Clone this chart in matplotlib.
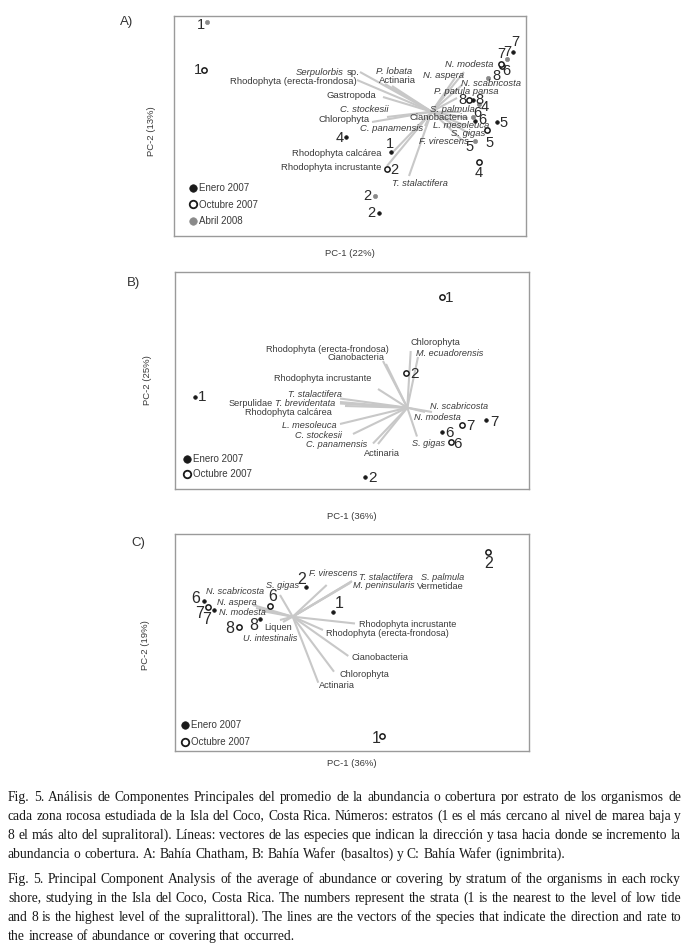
import matplotlib
matplotlib.use("Agg")
import matplotlib.pyplot as plt
from matplotlib.font_manager import FontProperties

plt.rcParams['font.family'] = ['Liberation Sans', 'DejaVu Sans']

W, H = 689, 947
TXT = '#3a3a3a'
NUM = '#2a2a2a'
VEC = '#c8c8c8'
DATE_STYLE = {
    'Enero 2007': dict(marker='o', ms=2.6, mfc='#1a1a1a', mec='#1a1a1a', mew=0.5),
    'Octubre 2007': dict(marker='o', ms=3.8, mfc='white', mec='#1a1a1a', mew=1.1),
    'Abril 2008': dict(marker='o', ms=3.0, mfc='#8a8a8a', mec='#8a8a8a', mew=0.5),
}
LEG_STYLE = {
    'Enero 2007': dict(marker='o', ms=5.4, mfc='#1a1a1a', mec='#1a1a1a', mew=0.5),
    'Octubre 2007': dict(marker='o', ms=5.4, mfc='white', mec='#1a1a1a', mew=1.3),
    'Abril 2008': dict(marker='o', ms=5.4, mfc='#8a8a8a', mec='#8a8a8a', mew=0.5),
}

# ---------------- Panel A : Bahia Chatham ----------------
a_strata = ['1', '1', '1', '2', '2', '2', '4', '4', '4', '5', '5', '5',
            '6', '6', '6', '7', '7', '7', '8', '8', '8']
a_dates = ['Abril 2008', 'Octubre 2007', 'Enero 2007', 'Octubre 2007', 'Abril 2008', 'Enero 2007',
           'Enero 2007', 'Octubre 2007', 'Abril 2008', 'Enero 2007', 'Abril 2008', 'Octubre 2007',
           'Enero 2007', 'Abril 2008', 'Octubre 2007', 'Enero 2007', 'Abril 2008', 'Octubre 2007',
           'Abril 2008', 'Octubre 2007', 'Enero 2007']
a_pc1 = [206.7, 204.0, 390.7, 387.3, 375.0, 379.3, 346.0, 478.7, 479.0, 496.7, 475.0, 486.7,
         475.3, 472.7, 502.0, 513.3, 506.7, 500.5, 488.3, 469.0, 472.7]
a_pc2 = [22.3, 70.0, 152.3, 169.3, 196.0, 212.7, 136.7, 161.7, 104.0, 121.7, 141.0, 130.0,
         121.0, 116.7, 66.0, 52.3, 59.0, 64.0, 78.3, 100.0, 100.0]
a_lab_x = [200.7, 198.0, 389.5, 394.5, 367.5, 371.7, 339.5, 478.7, 484.3, 503.3, 470.0, 489.3,
           482.7, 477.3, 506.0, 515.0, 507.3, 501.7, 496.7, 462.7, 479.0]
a_lab_y = [25.0, 70.0, 144.0, 169.5, 196.5, 213.3, 137.5, 173.3, 107.3, 123.3, 147.0, 143.0,
           120.0, 113.3, 71.0, 41.7, 52.3, 54.3, 76.0, 100.0, 100.0]
a_origin = (431.7, 111.7)
a_vec_x = [360, 357, 385, 392, 383, 387, 372, 425, 393, 387, 409, 462, 470, 466, 468, 460, 457, 462, 455, 464]
a_vec_y = [72, 80, 84, 86, 97, 117, 122, 126, 152, 166, 176, 140, 134, 126, 118, 112, 98, 85, 78, 72]
# each species label: list of (text, italic) segments
a_species = [[('Serpulorbis', True), ('sp.', False)], [('Rhodophyta (erecta-frondosa)', False)],
             [('P. lobata', True)], [('Actinaria', False)], [('Gastropoda', False)],
             [('C. stockesii', True)], [('Chlorophyta', False)], [('C. panamensis', True)],
             [('Rhodophyta calcárea', False)], [('Rhodophyta incrustante', False)],
             [('T. stalactifera', True)], [('F. virescens', True)], [('S. gigas', True)],
             [('L. mesoleuca', True)], [('Cianobacteria', False)], [('S. palmula', True)],
             [('P. patula pansa', True)], [('N. scabricosta', True)], [('N. aspera', True)],
             [('N. modesta', True)]]
a_sp_x = [359.3, 356.7, 376.0, 379.3, 376.0, 388.3, 370.0, 423.3, 381.7, 381.7, 391.7, 418.7, 450.7,
          433.3, 410.0, 430.0, 434.0, 460.7, 423.3, 445.0]
a_sp_y = [72.3, 81.0, 71.7, 80.7, 96.0, 109.0, 120.0, 128.3, 154.0, 167.3, 183.3, 141.0, 133.3,
          125.7, 117.3, 109.3, 91.7, 84.0, 75.0, 65.0]
a_sp_ha = ['right', 'right', 'left', 'left', 'right', 'right', 'right', 'right', 'right', 'right',
           'left', 'left', 'left', 'left', 'left', 'left', 'left', 'left', 'left', 'left']

# ---------------- Panel B : Bahia Wafer (basaltos) ----------------
b_strata = ['1', '1', '2', '2', '6', '6', '7', '7']
b_dates = ['Octubre 2007', 'Enero 2007', 'Octubre 2007', 'Enero 2007',
           'Enero 2007', 'Octubre 2007', 'Octubre 2007', 'Enero 2007']
b_pc1 = [441.7, 195.0, 406.0, 365.0, 441.7, 450.7, 462.3, 486.0]
b_pc2 = [296.7, 396.7, 372.7, 477.3, 431.7, 441.7, 425.0, 420.0]
b_lab_x = [449.3, 202.3, 414.3, 372.7, 449.3, 457.3, 470.0, 494.0]
b_lab_y = [298.3, 397.3, 374.0, 478.3, 432.7, 444.0, 426.0, 421.7]
b_origin = (407.3, 407.7)
b_vec_x = [410.7, 418.0, 383.0, 386.0, 378.0, 340.0, 340.0, 340.0, 345.0, 340.0, 353.0, 373.0, 378.0, 432.0, 425.0, 417.0]
b_vec_y = [351.0, 357.0, 361.0, 364.0, 389.0, 398.5, 402.0, 403.5, 406.0, 424.0, 434.0, 443.5, 444.0, 412.0, 412.0, 436.5]
b_species = [[('Chlorophyta', False)], [('M. ecuadorensis', True)],
             [('Rhodophyta (erecta-frondosa)', False)], [('Cianobacteria', False)],
             [('Rhodophyta incrustante', False)], [('T. stalactifera', True)],
             [('Serpulidae', False), ('T. brevidentata', True)], [('Rhodophyta calcárea', False)],
             [('L. mesoleuca', True)], [('C. stockesii', True)], [('C. panamensis', True)],
             [('Actinaria', False)], [('N. scabricosta', True)], [('N. modesta', True)],
             [('S. gigas', True)]]
b_sp_x = [410.7, 416.0, 388.3, 384.0, 371.0, 341.7, 335.7, 332.3, 336.7, 341.7, 367.3, 364.3, 430.0, 414.0, 412.0]
b_sp_y = [342.3, 353.3, 349.3, 357.3, 379.0, 394.3, 403.3, 412.7, 425.0, 435.0, 445.0, 454.0, 406.7, 417.7, 444.0]
b_sp_ha = ['left', 'left', 'right', 'right', 'right', 'right', 'right', 'right', 'right', 'right',
           'right', 'left', 'left', 'left', 'left']

# ---------------- Panel C : Bahia Wafer (ignimbrita) ----------------
c_strata = ['2', '2', '1', '1', '6', '6', '7', '7', '8', '8']
c_dates = ['Octubre 2007', 'Enero 2007', 'Enero 2007', 'Octubre 2007', 'Enero 2007',
           'Octubre 2007', 'Octubre 2007', 'Enero 2007', 'Octubre 2007', 'Enero 2007']
c_pc1 = [488.3, 306.0, 333.3, 382.3, 204.3, 270.0, 208.3, 214.0, 239.0, 260.0]
c_pc2 = [552.3, 586.7, 611.7, 736.0, 600.7, 605.7, 607.3, 610.0, 627.3, 619.0]
c_lab_x = [488.3, 301.7, 339.3, 375.7, 195.7, 272.7, 200.0, 206.7, 229.3, 253.3]
c_lab_y = [563.0, 579.3, 604.0, 738.3, 598.3, 596.7, 613.3, 620.0, 628.3, 625.0]
c_origin = (292.7, 616.7)
c_vec_x = [326.7, 351.7, 350.0, 352.0, 280.0, 253.0, 256.0, 262.0, 280.0, 283.0, 355.0, 323.0, 348.3, 334.0, 318.3]
c_vec_y = [585.0, 581.5, 583.0, 581.0, 595.0, 605.0, 608.0, 611.0, 620.0, 622.0, 623.5, 630.0, 656.0, 671.7, 682.7]
c_species = [[('F. virescens', True)], [('T. stalactifera', True)], [('S. palmula', True)],
             [('M. peninsularis', True)], [('Vermetidae', False)], [('S. gigas', True)],
             [('N. scabricosta', True)], [('N. aspera', True)], [('N. modesta', True)],
             [('Liquen', False)], [('U. intestinalis', True)], [('Rhodophyta incrustante', False)],
             [('Rhodophyta (erecta-frondosa)', False)], [('Cianobacteria', False)],
             [('Chlorophyta', False)], [('Actinaria', False)]]
c_sp_x = [309.3, 359.3, 420.7, 352.7, 416.7, 299.3, 206.0, 216.7, 219.3, 264.3, 242.7, 358.7, 325.7, 351.0, 339.3, 319.3]
c_sp_y = [573.3, 577.3, 577.3, 586.0, 586.7, 585.0, 591.7, 602.7, 612.7, 627.3, 638.3, 624.3, 633.3, 657.3, 674.3, 685.7]
c_sp_ha = ['left', 'left', 'left', 'left', 'left', 'right', 'left', 'left', 'left', 'left', 'left',
           'left', 'left', 'left', 'left', 'left']

panels = [
    dict(box=(174, 16, 526, 236), tag='A)', tag_xy=(127, 22), xlab='PC-1 (22%)', xlab_y=253,
         ylab='PC-2 (13%)', ylab_xy=(152, 131), strata=a_strata, dates=a_dates, x=a_pc1, y=a_pc2,
         lx=a_lab_x, ly=a_lab_y, origin=a_origin, vx=a_vec_x, vy=a_vec_y, sp=a_species,
         sx=a_sp_x, sy=a_sp_y, sha=a_sp_ha, legend=['Enero 2007', 'Octubre 2007', 'Abril 2008'],
         leg_xy=(192.7, 188.3), leg_dy=16.2, numsize=10.5, spsize=6.8),
    dict(box=(175, 272, 529, 489), tag='B)', tag_xy=(133, 283), xlab='PC-1 (36%)', xlab_y=516,
         ylab='PC-2 (25%)', ylab_xy=(147, 380), strata=b_strata, dates=b_dates, x=b_pc1, y=b_pc2,
         lx=b_lab_x, ly=b_lab_y, origin=b_origin, vx=b_vec_x, vy=b_vec_y, sp=b_species,
         sx=b_sp_x, sy=b_sp_y, sha=b_sp_ha, legend=['Enero 2007', 'Octubre 2007'],
         leg_xy=(186.7, 459.0), leg_dy=15.3, numsize=11, spsize=6.6),
    dict(box=(175, 534, 529, 751), tag='C)', tag_xy=(138, 543), xlab='PC-1 (36%)', xlab_y=763,
         ylab='PC-2 (19%)', ylab_xy=(145, 645), strata=c_strata, dates=c_dates, x=c_pc1, y=c_pc2,
         lx=c_lab_x, ly=c_lab_y, origin=c_origin, vx=c_vec_x, vy=c_vec_y, sp=c_species,
         sx=c_sp_x, sy=c_sp_y, sha=c_sp_ha, legend=['Enero 2007', 'Octubre 2007'],
         leg_xy=(185.0, 725.0), leg_dy=16.7, numsize=11.5, spsize=6.6),
]

fig = plt.figure(figsize=(W / 100, H / 100), dpi=100)
fig.patch.set_facecolor('white')
renderer = fig.canvas.get_renderer()
inv_fig = fig.transFigure.inverted()


def fx(px):
    return px / W


def fy(py):
    return 1 - py / H


def mixed_label(ax, x, y, segs, ha, size):
    px, py = ax.transData.transform((x, y))
    objs = [fig.text(0, 0, s, style='italic' if it else 'normal', fontsize=size, color=TXT,
                     va='center', ha='left', zorder=3) for s, it in segs]
    widths = [o.get_window_extent(renderer).width for o in objs]
    gap = 0.278 * size * 100 / 72
    total = sum(widths) + gap * (len(objs) - 1)
    start = px - total if ha == 'right' else px
    for o, w in zip(objs, widths):
        o.set_position(inv_fig.transform((start, py)))
        start += w + gap


for p in panels:
    l, t, r, b = p['box']
    ax = fig.add_axes([fx(l), fy(b), (r - l) / W, (b - t) / H])
    ax.set_xlim(l, r)
    ax.set_ylim(b, t)
    ax.set_xticks([])
    ax.set_yticks([])
    for s in ax.spines.values():
        s.set_color('#9a9a9a')
        s.set_linewidth(1.0)
    ox, oy = p['origin']
    for ex, ey in zip(p['vx'], p['vy']):
        ax.plot([ox, ex], [oy, ey], color=VEC, lw=1.5, solid_capstyle='butt', zorder=1)
    for segs, sx, sy, ha in zip(p['sp'], p['sx'], p['sy'], p['sha']):
        mixed_label(ax, sx, sy, segs, ha, p['spsize'])
    for st, d, x, y, lx, ly in zip(p['strata'], p['dates'], p['x'], p['y'], p['lx'], p['ly']):
        ax.plot([x], [y], linestyle='none', zorder=4, **DATE_STYLE[d])
        ax.text(lx, ly, st, ha='center', va='center', fontsize=p['numsize'], color=NUM, zorder=4)
    lx0, ly0 = p['leg_xy']
    for i, d in enumerate(p['legend']):
        ax.plot([lx0], [ly0 + i * p['leg_dy']], linestyle='none', zorder=4, **LEG_STYLE[d])
        ax.text(lx0 + 6, ly0 + i * p['leg_dy'], d, ha='left', va='center', fontsize=7.0, color=TXT)
    fig.text(fx(p['tag_xy'][0]), fy(p['tag_xy'][1]), p['tag'], ha='center', va='center',
             fontsize=9.5, color='#333333')
    fig.text(fx((l + r) / 2), fy(p['xlab_y']), p['xlab'], ha='center', va='center',
             fontsize=6.8, color=TXT)
    fig.text(fx(p['ylab_xy'][0]), fy(p['ylab_xy'][1]), p['ylab'], ha='center', va='center',
             rotation=90, fontsize=6.8, color=TXT)

# ---------------- Caption ----------------
cap_es = [
    "Fig. 5. Análisis de Componentes Principales del promedio de la abundancia o cobertura por estrato de los organismos de",
    "cada zona rocosa estudiada de la Isla del Coco, Costa Rica. Números: estratos (1 es el más cercano al nivel de marea baja y",
    "8 el más alto del supralitoral). Líneas: vectores de las especies que indican la dirección y tasa hacia donde se incremento la",
    "abundancia o cobertura. A: Bahía Chatham, B: Bahía Wafer (basaltos) y C: Bahía Wafer (ignimbrita).",
]
cap_en = [
    "Fig. 5. Principal Component Analysis of the average of abundance or covering by stratum of the organisms in each rocky",
    "shore, studying in the Isla del Coco, Costa Rica. The numbers represent the strata (1 is the nearest to the level of low tide",
    "and 8 is the highest level of the supralittoral). The lines are the vectors of the species that indicate the direction and rate to",
    "the increase of abundance or covering that occurred.",
]
cap_y_es = [801, 820, 839, 858]
cap_y_en = [883, 902, 921, 940]
CAP_L, CAP_R = 8, 681
CAP_SIZE = 9.8
cap_prop = FontProperties(family=['Liberation Serif'], size=CAP_SIZE)
cap_kw = dict(fontproperties=cap_prop, color='#1a1a1a', va='baseline', ha='left')


def justify(line, y, last):
    words = line.split(' ')
    texts = []
    for w in words:
        # Agg rounds the baseline of comma-ending words one pixel lower; compensate
        ytop = y - 1 if w.endswith(',') else y
        texts.append(fig.text(0, fy(ytop), w, **cap_kw))
    widths = [tt.get_window_extent(renderer).width for tt in texts]
    if last:
        gap = 0.25 * CAP_SIZE * 100 / 72
    else:
        gap = (CAP_R - CAP_L - sum(widths)) / (len(words) - 1)
    x = CAP_L
    for tt, w in zip(texts, widths):
        tt.set_x(fx(x))
        x += w + gap


for lines, ys in ((cap_es, cap_y_es), (cap_en, cap_y_en)):
    for i, (ln, y) in enumerate(zip(lines, ys)):
        justify(ln, y, i == len(lines) - 1)

fig.savefig('out.png', dpi=100, facecolor='white')
